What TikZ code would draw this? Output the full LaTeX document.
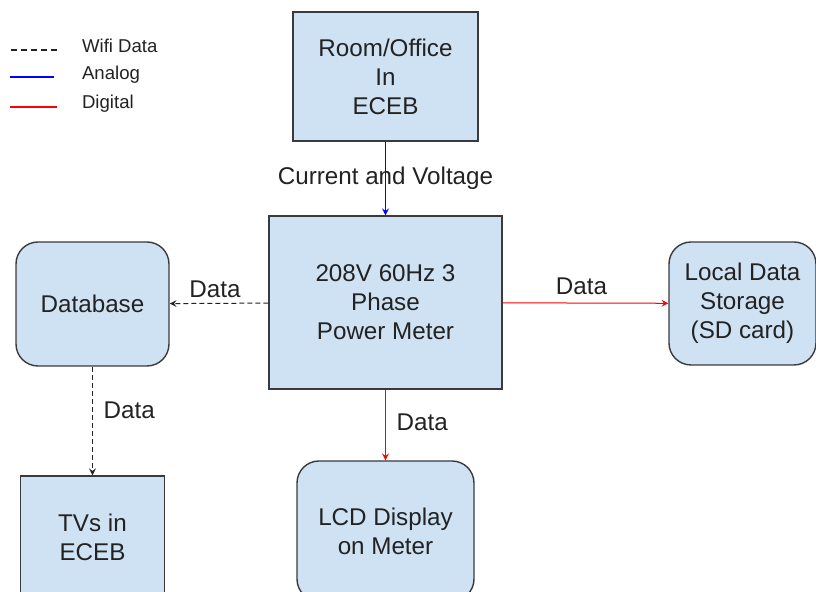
\documentclass[tikz,border=0pt]{standalone}
\usepackage{fontspec}
\setmainfont{Liberation Sans}
\usepackage{xcolor}
\usetikzlibrary{shapes,arrows,positioning}
\definecolor{boxblue}{HTML}{CFE2F3}
\definecolor{boxline}{HTML}{3A3A3A}
\definecolor{inkblack}{HTML}{222222}

\begin{document}
\begin{tikzpicture}[x=0.5pt, y=-0.5pt, node distance=113pt]
    \tikzstyle{block} = [rectangle, draw=boxline, fill=boxblue, line width=0.7pt, text=inkblack, align=center, inner sep=0pt, font=\fontsize{12.1}{14.5}\selectfont]
    \tikzstyle{rblock} = [block, rounded corners=11pt]
    \tikzstyle{tag} = [text=inkblack, font=\fontsize{12.1}{14.5}\selectfont]
    \tikzstyle{legendtext} = [text=inkblack, anchor=west, font=\fontsize{9.3}{11}\selectfont]
    \tikzstyle{arrow} = [line width=0.5pt,->,>=stealth]
    \tikzstyle{wifi} = [arrow, inkblack, dash pattern=on 2.5pt off 1.5pt]
    \tikzstyle{analog} = [arrow, blue]
    \tikzstyle{digital} = [arrow, red]

    \useasboundingbox (0,0) rectangle (816,592);

    % Legend
    \node [legendtext] (lwifi) at (75,46) {Wifi Data};
    \node [legendtext] (lanalog) at (75,75) {Analog};
    \node [legendtext] (ldigital) at (75,104) {Digital};
    \coordinate (wifiA) at (11,50);   \coordinate (wifiB) at (57,50);
    \coordinate (analogA) at (10,77); \coordinate (analogB) at (54,77);
    \coordinate (digitalA) at (10,107); \coordinate (digitalB) at (57,107);
    \draw [inkblack, line width=0.6pt, dash pattern=on 3pt off 2pt] (wifiA) -- (wifiB);
    \draw [blue, line width=0.6pt] (analogA) -- (analogB);
    \draw [red, line width=0.6pt] (digitalA) -- (digitalB);

    % Room
    \node [block, minimum width=92.5pt, minimum height=64.5pt] (room) at (385.5,76.5) {Room/Office\\In\\ECEB};

    % Power meter
    \node [block, below of=room, minimum width=116.5pt, minimum height=86.5pt] (meter) {208V 60Hz 3\\Phase\\Power Meter};

    % Database
    \node [rblock, left of=meter, xshift=-33.5pt, yshift=-0.75pt, minimum width=76.5pt, minimum height=62pt] (database) {Database};

    % Local storage
    \node [rblock, right of=meter, xshift=65.5pt, yshift=-0.5pt, minimum width=73.5pt, minimum height=61.5pt] (storage) {Local Data\\Storage\\(SD card)};

    % LCD
    \node [rblock, below of=meter, yshift=-1.25pt, minimum width=88.5pt, minimum height=70pt] (lcd) {LCD Display\\on Meter};

    % TVs
    \node [block, below of=database, yshift=-3.5pt, minimum width=72pt, minimum height=61pt] (tvs) {TVs in\\ECEB};

    % Arrows
    \draw [analog] (room) -- (meter) node [tag, midway] {Current and Voltage};
    \draw [wifi] (meter) -- (database) node [tag, midway, above, xshift=-2pt, yshift=-1pt] {Data};
    \draw [digital] (meter) -- (storage) node [tag, midway, above, xshift=-2pt, yshift=0.5pt] {Data};
    \draw [digital] (meter) -- (lcd) node [tag, midway, right=2pt, yshift=1.5pt] {Data};
    \draw [wifi] (database) -- (tvs) node [tag, pos=0.4, right=2pt] {Data};
\end{tikzpicture}
\end{document}
